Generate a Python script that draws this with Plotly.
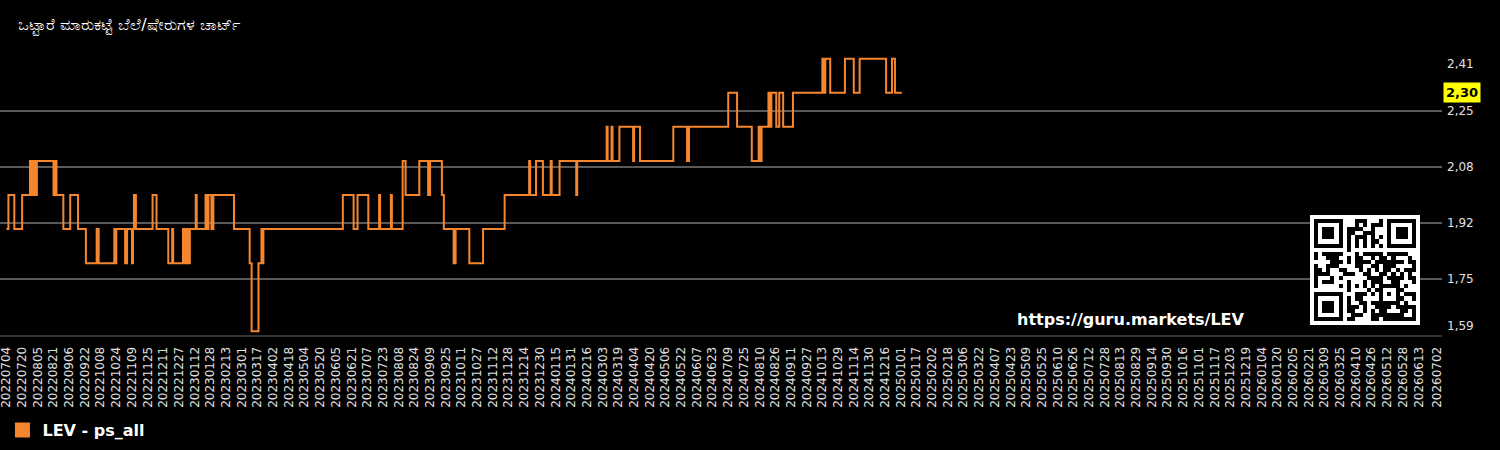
import plotly.graph_objects as go
import pandas as pd

# ---------------- data ----------------
title_text = ("\u0C92\u0C9F\u0CCD\u0C9F\u0CBE\u0CB0\u0CC6 "
              "\u0CAE\u0CBE\u0CB0\u0CC1\u0C95\u0C9F\u0CCD\u0C9F\u0CC6 "
              "\u0CAC\u0CC6\u0CB2\u0CC6/\u0CB7\u0CC7\u0CB0\u0CC1\u0C97\u0CB3 "
              "\u0C9A\u0CBE\u0CB0\u0CCD\u0C9F\u0CCD")
series_name = "LEV - ps_all"
url_text = "https://guru.markets/LEV"

dates = [
    "2022-07-04", "2022-07-06", "2022-07-12", "2022-07-20", "2022-07-28", "2022-07-30", "2022-08-01", "2022-08-02", "2022-08-04",
    "2022-08-21", "2022-08-22", "2022-08-24", "2022-08-31", "2022-09-07", "2022-09-15", "2022-09-23", "2022-10-04", "2022-10-06",
    "2022-10-22", "2022-10-23", "2022-10-24", "2022-11-02", "2022-11-04", "2022-11-09", "2022-11-10", "2022-11-11", "2022-11-13",
    "2022-11-30", "2022-12-04", "2022-12-16", "2022-12-20", "2022-12-21", "2022-12-31", "2023-01-02", "2023-01-04", "2023-01-05",
    "2023-01-07", "2023-01-13", "2023-01-14", "2023-01-23", "2023-01-24", "2023-01-26", "2023-01-29", "2023-01-31", "2023-02-21",
    "2023-03-09", "2023-03-11", "2023-03-18", "2023-03-21", "2023-03-22", "2023-03-23", "2023-06-12", "2023-06-23", "2023-06-27",
    "2023-07-08", "2023-07-19", "2023-07-20", "2023-07-31", "2023-08-01", "2023-08-12", "2023-08-15", "2023-08-29", "2023-09-07",
    "2023-09-09", "2023-09-21", "2023-09-23", "2023-10-03", "2023-10-05", "2023-10-19", "2023-11-02", "2023-11-24", "2023-12-19",
    "2023-12-20", "2023-12-26", "2024-01-02", "2024-01-10", "2024-01-11", "2024-01-19", "2024-02-05", "2024-02-06", "2024-03-07",
    "2024-03-08", "2024-03-12", "2024-03-13", "2024-03-20", "2024-04-03", "2024-04-04", "2024-04-10", "2024-05-14", "2024-05-28",
    "2024-05-30", "2024-07-09", "2024-07-18", "2024-08-02", "2024-08-09", "2024-08-10", "2024-08-12", "2024-08-19", "2024-08-21",
    "2024-08-22", "2024-08-27", "2024-08-30", "2024-09-03", "2024-09-13", "2024-10-13", "2024-10-15", "2024-10-16", "2024-10-21",
    "2024-11-05", "2024-11-14", "2024-11-20", "2024-12-17", "2024-12-23", "2024-12-26", "2025-01-02",
]
values = [
    1.9, 2.0, 1.9, 2.0, 2.1, 2.0, 2.1, 2.0, 2.1,
    2.0, 2.1, 2.0, 1.9, 2.0, 1.9, 1.8, 1.9, 1.8,
    1.9, 1.8, 1.9, 1.8, 1.9, 1.8, 1.9, 2.0, 1.9,
    2.0, 1.9, 1.8, 1.9, 1.8, 1.9, 1.8, 1.9, 1.8,
    1.9, 2.0, 1.9, 2.0, 1.9, 2.0, 1.9, 2.0, 1.9,
    1.8, 1.6, 1.8, 1.9, 1.8, 1.9, 2.0, 1.9, 2.0,
    1.9, 2.0, 1.9, 2.0, 1.9, 2.1, 2.0, 2.1, 2.0,
    2.1, 2.0, 1.9, 1.8, 1.9, 1.8, 1.9, 2.0, 2.1,
    2.0, 2.1, 2.0, 2.1, 2.0, 2.1, 2.0, 2.1, 2.2,
    2.1, 2.2, 2.1, 2.2, 2.1, 2.2, 2.1, 2.2, 2.1,
    2.2, 2.3, 2.2, 2.1, 2.2, 2.1, 2.2, 2.3, 2.2,
    2.3, 2.2, 2.3, 2.2, 2.3, 2.4, 2.3, 2.4, 2.3,
    2.4, 2.3, 2.4, 2.3, 2.4, 2.3, 2.3,
]

y_ticks = [1.59, 1.754, 1.918, 2.082, 2.246, 2.41]
x_tick_start = "2022-07-04"
x_tick_last = "2026-06-13"
x_axis_end = "2026-07-02"

# ---------------- styles ----------------
LINE_COLOR = "#f5862e"
GRID_COLOR = "#5a5a5a"
TEXT_COLOR = "#e0e0e0"
FONT = "DejaVu Sans"


# ---------------- QR code (version 2-M, byte mode) ----------------
def qr_matrix(text):
    data = text.encode("utf-8")
    size, n_data, n_ec = 25, 28, 16
    bits = []

    def add(val, n):
        for i in range(n - 1, -1, -1):
            bits.append((val >> i) & 1)

    add(0b0100, 4)
    add(len(data), 8)
    for b in data:
        add(b, 8)
    cap = n_data * 8
    add(0, min(4, cap - len(bits)))
    while len(bits) % 8:
        bits.append(0)
    cw = [int("".join(map(str, bits[i:i + 8])), 2) for i in range(0, len(bits), 8)]
    k = 0
    while len(cw) < n_data:
        cw.append((0xEC, 0x11)[k % 2])
        k += 1
    exp = [0] * 512
    log = [0] * 256
    x = 1
    for i in range(255):
        exp[i] = x
        log[x] = i
        x <<= 1
        if x & 0x100:
            x ^= 0x11D
    for i in range(255, 512):
        exp[i] = exp[i - 255]

    def mul(a, b):
        return 0 if a == 0 or b == 0 else exp[log[a] + log[b]]

    gen = [1]
    for i in range(n_ec):
        ng = [0] * (len(gen) + 1)
        for j, g in enumerate(gen):
            ng[j] ^= g
            ng[j + 1] ^= mul(g, exp[i])
        gen = ng
    rem = cw + [0] * n_ec
    for i in range(n_data):
        c = rem[i]
        if c:
            for j in range(1, len(gen)):
                rem[i + j] ^= mul(gen[j], c)
    allcw = cw + rem[n_data:]
    stream = []
    for b in allcw:
        for i in range(7, -1, -1):
            stream.append((b >> i) & 1)

    base = [[None] * size for _ in range(size)]

    def finder(r, c):
        for dr in range(-1, 8):
            for dc in range(-1, 8):
                rr, cc = r + dr, c + dc
                if 0 <= rr < size and 0 <= cc < size:
                    inside = 0 <= dr <= 6 and 0 <= dc <= 6
                    dark = inside and (dr in (0, 6) or dc in (0, 6) or (2 <= dr <= 4 and 2 <= dc <= 4))
                    base[rr][cc] = 1 if dark else 0

    finder(0, 0)
    finder(0, size - 7)
    finder(size - 7, 0)
    for i in range(8, size - 8):
        base[6][i] = 1 if i % 2 == 0 else 0
        base[i][6] = 1 if i % 2 == 0 else 0
    for dr in range(-2, 3):
        for dc in range(-2, 3):
            base[18 + dr][18 + dc] = 0 if max(abs(dr), abs(dc)) == 1 else 1
    for i in range(9):
        if base[8][i] is None:
            base[8][i] = 0
        if base[i][8] is None:
            base[i][8] = 0
    for i in range(8):
        base[8][size - 1 - i] = 0
        base[size - 1 - i][8] = 0
    func = [[base[r][c] is not None for c in range(size)] for r in range(size)]

    data_pos = []
    up = True
    col = size - 1
    while col > 0:
        if col == 6:
            col -= 1
        rows = range(size - 1, -1, -1) if up else range(size)
        for r in rows:
            for c in (col, col - 1):
                if not func[r][c]:
                    data_pos.append((r, c))
        up = not up
        col -= 2

    masks = [
        lambda i, j: (i + j) % 2 == 0,
        lambda i, j: i % 2 == 0,
        lambda i, j: j % 3 == 0,
        lambda i, j: (i + j) % 3 == 0,
        lambda i, j: (i // 2 + j // 3) % 2 == 0,
        lambda i, j: (i * j) % 2 + (i * j) % 3 == 0,
        lambda i, j: ((i * j) % 2 + (i * j) % 3) % 2 == 0,
        lambda i, j: ((i + j) % 2 + (i * j) % 3) % 2 == 0,
    ]

    def fmt_bits(ec, mask):
        d = (ec << 3) | mask
        r = d
        for _ in range(10):
            r = (r << 1) ^ ((r >> 9) * 0x537)
        return ((d << 10) | r) ^ 0x5412

    def build(mask):
        m = [row[:] for row in base]
        for idx, (r, c) in enumerate(data_pos):
            bit = stream[idx] if idx < len(stream) else 0
            if masks[mask](r, c):
                bit ^= 1
            m[r][c] = bit
        f = fmt_bits(0, mask)
        gb = lambda i: (f >> i) & 1
        for i in range(6):
            m[i][8] = gb(i)
        m[7][8] = gb(6)
        m[8][8] = gb(7)
        m[8][7] = gb(8)
        for i in range(9, 15):
            m[8][14 - i] = gb(i)
        for i in range(8):
            m[8][size - 1 - i] = gb(i)
        for i in range(8, 15):
            m[size - 15 + i][8] = gb(i)
        m[size - 8][8] = 1
        return m

    def penalty(m):
        p = 0
        lines = [row for row in m] + [[m[r][c] for r in range(size)] for c in range(size)]
        for ln in lines:
            run = 1
            for i in range(1, size):
                if ln[i] == ln[i - 1]:
                    run += 1
                else:
                    if run >= 5:
                        p += 3 + run - 5
                    run = 1
            if run >= 5:
                p += 3 + run - 5
        for r in range(size - 1):
            for c in range(size - 1):
                if m[r][c] == m[r][c + 1] == m[r + 1][c] == m[r + 1][c + 1]:
                    p += 3
        pats = ([1, 0, 1, 1, 1, 0, 1, 0, 0, 0, 0], [0, 0, 0, 0, 1, 0, 1, 1, 1, 0, 1])
        for ln in lines:
            for i in range(size - 10):
                if ln[i:i + 11] in pats:
                    p += 40
        dark = sum(sum(row) for row in m)
        p += int(abs(dark * 100 / (size * size) - 50) / 5) * 10
        return p

    best = min(range(8), key=lambda mk: penalty(build(mk)))
    return build(best)


qr = qr_matrix(url_text)
qr_z = [[0] * 27] + [[0] + row + [0] for row in qr] + [[0] * 27]

# ---------------- ticks ----------------
tick_dates = list(pd.date_range(x_tick_start, x_tick_last, freq="16D")) + [pd.Timestamp(x_axis_end)]
tick_text = [d.strftime("%Y%m%d") for d in tick_dates]


def fmt_comma(v):
    return f"{v:.2f}".replace(".", ",")


# ---------------- figure ----------------
fig = go.Figure()
fig.add_trace(go.Scatter(
    x=dates, y=values, mode="lines", line=dict(color=LINE_COLOR, width=2, shape="hv"),
    showlegend=False, hoverinfo="skip",
))
fig.add_trace(go.Scatter(
    x=[None], y=[None], mode="markers", name=f"<b>{series_name}</b>",
    marker=dict(symbol="square", size=15, color=LINE_COLOR), showlegend=True,
))
fig.add_trace(go.Heatmap(
    z=qr_z, xaxis="x2", yaxis="y2", colorscale=[[0, "#ffffff"], [1, "#000000"]],
    zmin=0, zmax=1, showscale=False, hoverinfo="skip",
))

annotations = []
for i, v in enumerate(y_ticks):
    yshift = -9 if i == len(y_ticks) - 1 else (9 if i == 0 else 0)
    annotations.append(dict(
        xref="paper", yref="y", x=1, y=v, xanchor="left", yanchor="middle",
        xshift=3, yshift=yshift, text=fmt_comma(v), showarrow=False,
        font=dict(family=FONT, size=12, color=TEXT_COLOR),
    ))
annotations.append(dict(
    xref="paper", yref="y", x=1, y=values[-1], xanchor="left", yanchor="middle",
    xshift=1, text=f"<b>{fmt_comma(values[-1])}</b>", showarrow=False,
    bgcolor="#ffff00", borderpad=2, font=dict(family=FONT, size=13, color="#000000"),
))
annotations.append(dict(
    xref="paper", yref="paper", x=1247 / 1442, y=0.0536, xanchor="right", yanchor="middle",
    text=f"<b>{url_text}</b>", showarrow=False,
    font=dict(family=FONT, size=16, color="#ffffff"),
))

fig.update_layout(
    width=1500, height=450,
    paper_bgcolor="#000000", plot_bgcolor="#000000",
    margin=dict(l=0, r=58, t=55, b=115),
    font=dict(family=FONT, color=TEXT_COLOR, size=12),
    title=dict(text=title_text, x=0.012, xanchor="left", y=1 - 24 / 450, yanchor="middle",
               font=dict(family=FONT, size=16, color="#ffffff")),
    showlegend=True,
    legend=dict(orientation="h", x=0.0017, xanchor="left", y=-0.34, yanchor="middle",
                font=dict(family=FONT, size=16, color="#ffffff"), bgcolor="rgba(0,0,0,0)"),
    xaxis=dict(
        type="date", range=["2022-06-27 10:00", "2026-07-06 20:00"],
        tickmode="array", tickvals=tick_dates, ticktext=tick_text, tickangle=-90,
        tickfont=dict(family=FONT, size=12, color=TEXT_COLOR), ticklabeloverflow="allow",
        ticks="outside", ticklen=5, tickcolor="rgba(0,0,0,0)",
        showgrid=False, zeroline=False, showline=True, linecolor="#333333", linewidth=2,
    ),
    yaxis=dict(
        range=[1.589, 2.411], side="right", tickmode="array", tickvals=y_ticks,
        showticklabels=False, showgrid=True, gridcolor=GRID_COLOR, gridwidth=2,
        zeroline=False, ticks="",
    ),
    xaxis2=dict(domain=[1310 / 1442, 1420 / 1442], anchor="y2", visible=False,
                range=[-0.5, 26.5], fixedrange=True),
    yaxis2=dict(domain=[(335 - 325) / 280, (335 - 215) / 280], anchor="x2", visible=False,
                range=[26.5, -0.5], fixedrange=True),
    annotations=annotations,
)

fig.write_html("out.html")
